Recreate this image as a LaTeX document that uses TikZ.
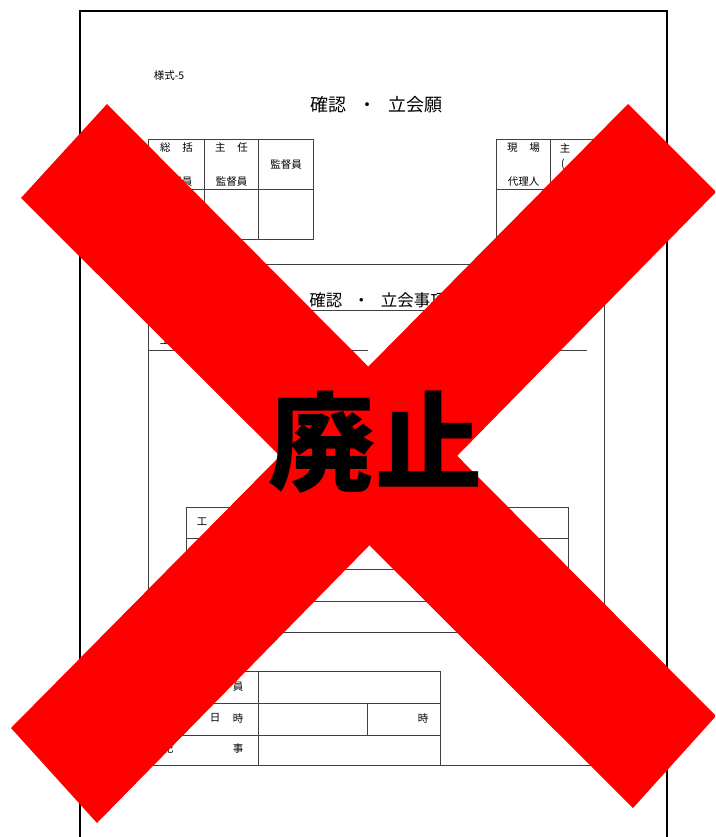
\documentclass[tikz,border=0pt]{standalone}
\usepackage{fontspec}
\setmainfont{Noto Sans CJK JP}

\begin{document}
\begin{tikzpicture}[x=1pt,y=-1pt]
   \tikzstyle{frame} = [draw=black,line width=2pt]
   \tikzstyle{grid} = [draw=black!75,line width=1pt]
   \tikzstyle{s} = [inner sep=0pt,font=\fontsize{10.5}{12}\selectfont]
   \tikzstyle{ttl} = [inner sep=0pt,font=\fontsize{18}{20}\selectfont]
   \tikzstyle{cross} = [fill=red,draw=none]
   \useasboundingbox (0,0) rectangle (715,837);
   \clip (0,0) rectangle (715,837);
   \fill [white] (0,0) rectangle (715,837);
   %% page
   \draw [frame] (80,850) -- (80,11) -- (667,11) -- (667,850);
   \node [s] (form) at (169,76) {様式-5};
   \node [ttl] (title) at (376.5,105) {確認\hspace{12.5pt}・\hspace{12.5pt}立会願};
   %% stamp boxes left
   \begin{scope}
      \draw [grid] (148,140) rectangle (313,239);
      \draw [grid] (148,189) -- (313,189);
      \draw [grid] (204,140) -- (204,239); \draw [grid] (258,140) -- (258,239);
      \node [s] (sokatsu) at (176.5,148) {総\hspace{12pt}括};
      \node [s] (sokatsub) at (176.5,182) {監督員};
      \node [s] (shunin) at (231.5,148) {主\hspace{12pt}任};
      \node [s] (shuninb) at (231.5,182) {監督員};
      \node [s] (kantoku) at (286,165) {監督員};
   \end{scope}
   %% stamp boxes right
   \begin{scope}
      \draw [grid] (496,140) rectangle (604,239);
      \draw [grid] (496,189) -- (604,189);
      \draw [grid] (550,140) -- (550,239);
      \node [s] (genba) at (523.5,148) {現\hspace{12pt}場};
      \node [s] (dairi) at (523.5,182) {代理人};
      \node [s] (shu) at (565,148) {主};
      \node [s] (paren) at (563,164) {(};
   \end{scope}
   %%
   \begin{scope}
      \draw [grid] (148,264) rectangle (604,765);
      \node [inner sep=0pt,font=\fontsize{16.5}{18}\selectfont] (jikou) at (378,300)
         {確認\hspace{11pt}・\hspace{11pt}立会事項};
      \draw [grid] (296,310) -- (460,310);
      \draw [grid] (148,350) -- (368,350); \draw [grid] (400,350) -- (587,350);
      \node [s] (kou) at (165,341) {工};
   \end{scope}
   %%
   \begin{scope}
      \draw [grid] (186,507) rectangle (568,632);
      \draw [grid] (186,538) -- (568,538);
      \draw [grid] (186,569) -- (568,569);
      \draw [grid] (186,601) -- (568,601);
      \node [s] (kou2) at (202,522) {工};
   \end{scope}
   %%
   \begin{scope}
      \draw [grid] (148,671) -- (440,671) -- (440,765);
      \draw [grid] (148,703) -- (440,703); \draw [grid] (148,735) -- (440,735);
      \draw [grid] (258,671) -- (258,765); \draw [grid] (367,703) -- (367,735);
      \node [s] (in) at (238,687) {員};
      \node [s] (nichi) at (215,718) {日}; \node [s] (ji) at (238,718) {時};
      \node [s] (ki) at (168,749) {記}; \node [s] (koto) at (238,749) {事};
      \node [s] (ji2) at (423,718) {時};
   \end{scope}
   %% cross
   \fill [cross] (107,104) -- (716,716) -- (633,808) -- (21,198) -- cycle;
   \fill [cross] (628,104) -- (716,192) -- (97,823) -- (11,728) -- cycle;
   \node [anchor=base,inner sep=0pt,font=\fontsize{107}{107}\selectfont\bfseries]
      (haishi) at (375,482) {廃止};
\end{tikzpicture}
\end{document}
